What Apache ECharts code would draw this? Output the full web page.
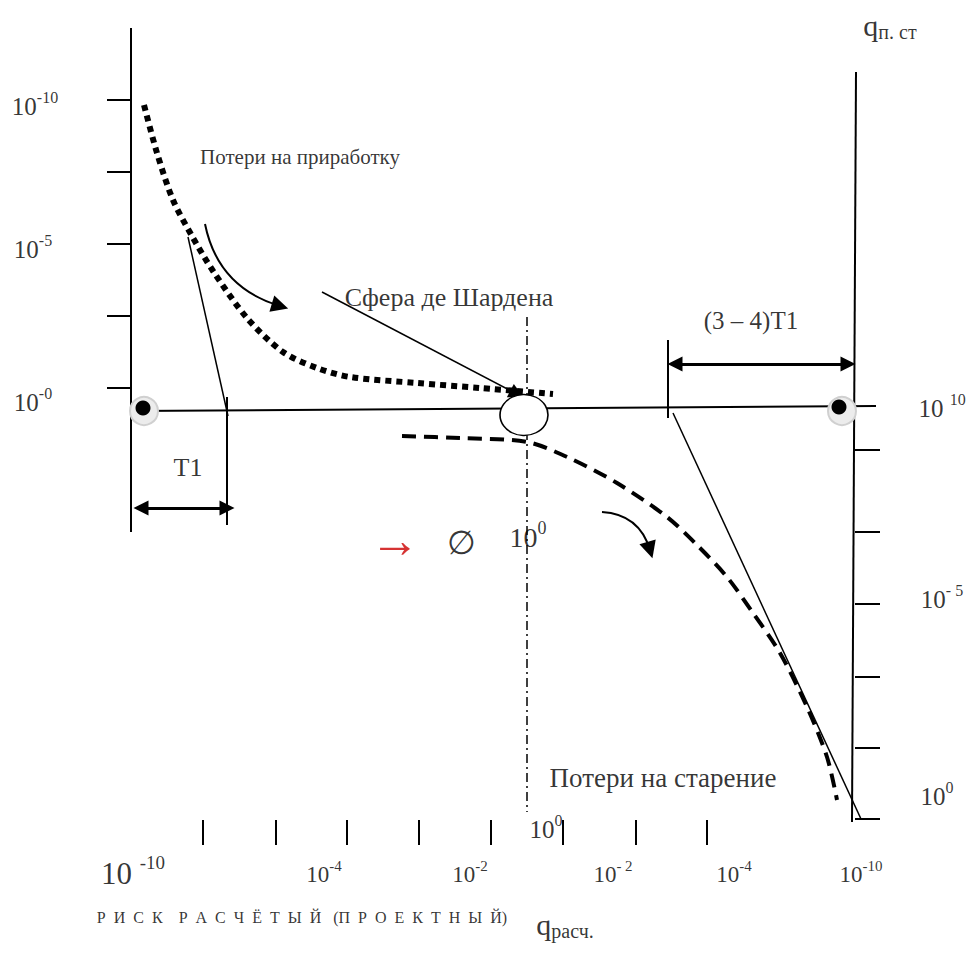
<!DOCTYPE html>
<html>
<head>
<meta charset="utf-8">
<script src="https://cdn.jsdelivr.net/npm/echarts@6/dist/echarts.min.js"></script>
<style>
html, body { margin: 0; padding: 0; background: #fff; }
#chart { width: 970px; height: 956px; }
</style>
</head>
<body>
<div id="chart"></div>
<script>
// diagram units: x to the right, y downward, same scale as the picture
const runInCurve = [[144,105],[157,153],[173,200],[192,236],[213,271],[247,318],[283,352],[317,368],[350,377],[417,383],[480,388],[553,394]];
const agingCurve = [[402,436],[460,438],[527,442],[567,457],[617,483],[667,517],[697,545],[727,577],[753,613],[780,653],[807,707],[827,757],[837,800]];
const baseLine = [[131,411],[876,406]];
const leftAxisLine = [[131,28],[131,532]];
const rightAxisLine = [[856,72],[852,822]];
const leftTicks = [100,172,244,316,388];
const rightTicks = [450,532,604,677,748,819];
const bottomTicks = [203,276,347,419,491,563,636,707];
const leftScaleLabels = ['-10','-5','-0'];
const rightScaleLabels = ['10','- 5','0'];
const bottomScaleLabels = ['-10','-4','-2','- 2','-4','-10'];
const startPoint = [143,408];
const endPoint = [839,407];
const sphereCenter = [524,415];

const FONT = "'Liberation Serif', 'Times New Roman', serif";
const chart = echarts.init(document.getElementById('chart'), null, { renderer: 'svg' });

function seg(a, b) { return { coords: [a, b] }; }

const frameSegs = [
    seg(leftAxisLine[0], leftAxisLine[1]),
    seg(rightAxisLine[0], rightAxisLine[1]),
    seg(baseLine[0], baseLine[1]),
    seg([227,397], [227,525]),   // T1 limit
    seg([668,340], [668,418]),   // (3-4)T1 limit
    ...leftTicks.map(y => seg([107,y], [131,y])),
    ...rightTicks.map(y => seg([855,y], [880,y])),
    ...bottomTicks.map(x => seg([x,820], [x,845]))
];
const thinSegs = [
    seg([188,237], [228,416]),
    seg([673,413], [861,819])
];

// text marks
function txt(x, y, formatter) {
    return { value: [x, y], label: { formatter: formatter } };
}
const texts = [
    txt(35, 106, '{b|10}{s|' + leftScaleLabels[0] + '}'),
    txt(33, 249, '{b|10}{s|' + leftScaleLabels[1] + '}'),
    txt(33, 402, '{b|10}{s|' + leftScaleLabels[2] + '}'),
    txt(942, 408, '{b|10 }{s|' + rightScaleLabels[0] + '}'),
    txt(942, 599, '{b|10}{s|' + rightScaleLabels[1] + '}'),
    txt(937, 796, '{b|10}{s|' + rightScaleLabels[2] + '}'),
    txt(133, 873, '{B|10 }{S|' + bottomScaleLabels[0] + '}'),
    txt(324, 874, '{m|10}{ms|' + bottomScaleLabels[1] + '}'),
    txt(470, 874, '{m|10}{ms|' + bottomScaleLabels[2] + '}'),
    txt(613, 874, '{m|10}{ms|' + bottomScaleLabels[3] + '}'),
    txt(734, 874, '{m|10}{ms|' + bottomScaleLabels[4] + '}'),
    txt(861, 874, '{m|10}{ms|' + bottomScaleLabels[5] + '}'),
    txt(528, 537, '{c|10}{cs|0}'),
    txt(546, 829, '{b|10}{s|0}'),
    txt(461, 542, '{o|\u2205}'),
    txt(395, 540, '{r|\u2192}'),
    txt(300, 157, '{t21|Потери на приработку}'),
    txt(449, 297, '{t26|Сфера де Шардена}'),
    txt(751, 320, '{t25|(3 \u2013 4)T1}'),
    txt(188, 467, '{t26|T1}'),
    txt(663, 778, '{t27|Потери на старение}'),
    txt(302, 917, '{t16|Р  И  С  К    Р  А  С  Ч  Ё  Т  Ы  Й   (П  Р  О  Е  К  Т  Н  Ы  Й)}'),
    txt(565, 924, '{q|q}{qs|расч.}'),
    txt(890, 25, '{q|q}{qs|п. ст}')
];

const option = {
    animation: false,
    grid: { left: 0, right: 0, top: 0, bottom: 0 },
    xAxis: { type: 'value', min: 0, max: 970, show: false },
    yAxis: { type: 'value', min: 0, max: 956, inverse: true, show: false },
    series: [
        {
            type: 'lines', coordinateSystem: 'cartesian2d', silent: true,
            lineStyle: { color: '#000', width: 2, opacity: 1 },
            data: frameSegs
        },
        {
            type: 'lines', coordinateSystem: 'cartesian2d', silent: true,
            lineStyle: { color: '#000', width: 1.5, opacity: 1 },
            data: thinSegs
        },
        {
            // dash-dot axis through the sphere
            type: 'lines', coordinateSystem: 'cartesian2d', silent: true,
            lineStyle: { color: '#000', width: 1.5, opacity: 1, type: [9, 4, 2, 4] },
            data: [seg([527,317], [527,812])]
        },
        {
            // pointer to the sphere
            type: 'lines', coordinateSystem: 'cartesian2d', silent: true,
            symbol: ['none', 'triangle'], symbolSize: 15,
            lineStyle: { color: '#000', width: 1.5, opacity: 1 },
            data: [seg([322,292], [517,394])]
        },
        {
            // curved arrows
            type: 'lines', coordinateSystem: 'cartesian2d', silent: true,
            symbol: ['none', 'triangle'], symbolSize: 17,
            lineStyle: { color: '#000', width: 2, opacity: 1 },
            data: [
                { coords: [[205,224], [280,306]], lineStyle: { curveness: -0.3 } },
                { coords: [[602,512], [650,550]], lineStyle: { curveness: 0.35 } }
            ]
        },
        {
            // interval arrows
            type: 'lines', coordinateSystem: 'cartesian2d', silent: true,
            symbol: ['triangle', 'triangle'], symbolSize: 15,
            lineStyle: { color: '#000', width: 3, opacity: 1 },
            data: [seg([141,508], [227,508]), seg([675,364], [848,364])]
        },
        {
            type: 'line', name: 'run-in', smooth: 0.3, symbol: 'none', silent: true,
            lineStyle: { color: '#000', width: 6, type: [6, 5], cap: 'butt' },
            data: runInCurve
        },
        {
            type: 'line', name: 'aging', smooth: 0.3, symbol: 'none', silent: true,
            lineStyle: { color: '#000', width: 4, type: [14, 8], cap: 'butt' },
            data: agingCurve
        },
        {
            // shadow rings under the end points
            type: 'scatter', silent: true, symbol: 'circle', symbolSize: 28,
            itemStyle: { color: '#ececec', borderColor: '#d0d0d0', borderWidth: 2, opacity: 1 },
            data: [[startPoint[0] + 1, startPoint[1] + 3], [endPoint[0] + 3, endPoint[1] + 4]]
        },
        {
            type: 'scatter', silent: true, symbol: 'circle', symbolSize: 15,
            itemStyle: { color: '#000', opacity: 1 },
            data: [startPoint, endPoint]
        },
        {
            // sphere of de Chardin
            type: 'scatter', silent: true, symbol: 'circle', symbolSize: [48, 41],
            itemStyle: { color: '#fff', borderColor: '#000', borderWidth: 1.5, opacity: 1 },
            data: [sphereCenter]
        },
        {
            type: 'scatter', silent: true, symbolSize: 1,
            itemStyle: { color: 'rgba(0,0,0,0)' },
            label: {
                show: true, position: 'inside', color: '#000', fontFamily: FONT,
                rich: {
                    b: { fontSize: 25, lineHeight: 34, fontFamily: FONT, color: '#000' },
                    s: { fontSize: 16, lineHeight: 16, verticalAlign: 'top', fontFamily: FONT, color: '#000' },
                    B: { fontSize: 31, lineHeight: 40, fontFamily: FONT, color: '#000' },
                    S: { fontSize: 19, lineHeight: 19, verticalAlign: 'top', fontFamily: FONT, color: '#000' },
                    m: { fontSize: 23, lineHeight: 31, fontFamily: FONT, color: '#000' },
                    ms: { fontSize: 15, lineHeight: 15, verticalAlign: 'top', fontFamily: FONT, color: '#000' },
                    c: { fontSize: 28, lineHeight: 37, fontFamily: FONT, color: '#000' },
                    cs: { fontSize: 18, lineHeight: 18, verticalAlign: 'top', fontFamily: FONT, color: '#000' },
                    o: { fontSize: 33, fontFamily: "'DejaVu Serif', serif", color: '#000' },
                    r: { fontSize: 50, fontFamily: FONT, color: '#cc0000' },
                    t16: { fontSize: 16, fontFamily: FONT, color: '#000' },
                    t21: { fontSize: 21, fontFamily: FONT, color: '#000' },
                    t25: { fontSize: 25, fontFamily: FONT, color: '#000' },
                    t26: { fontSize: 26, fontFamily: FONT, color: '#000' },
                    t27: { fontSize: 27, fontFamily: FONT, color: '#000' },
                    q: { fontSize: 30, lineHeight: 34, fontFamily: FONT, color: '#000' },
                    qs: { fontSize: 20, lineHeight: 20, verticalAlign: 'bottom', fontFamily: FONT, color: '#000' }
                }
            },
            data: texts
        }
    ]
};
chart.setOption(option);
</script>
</body>
</html>
